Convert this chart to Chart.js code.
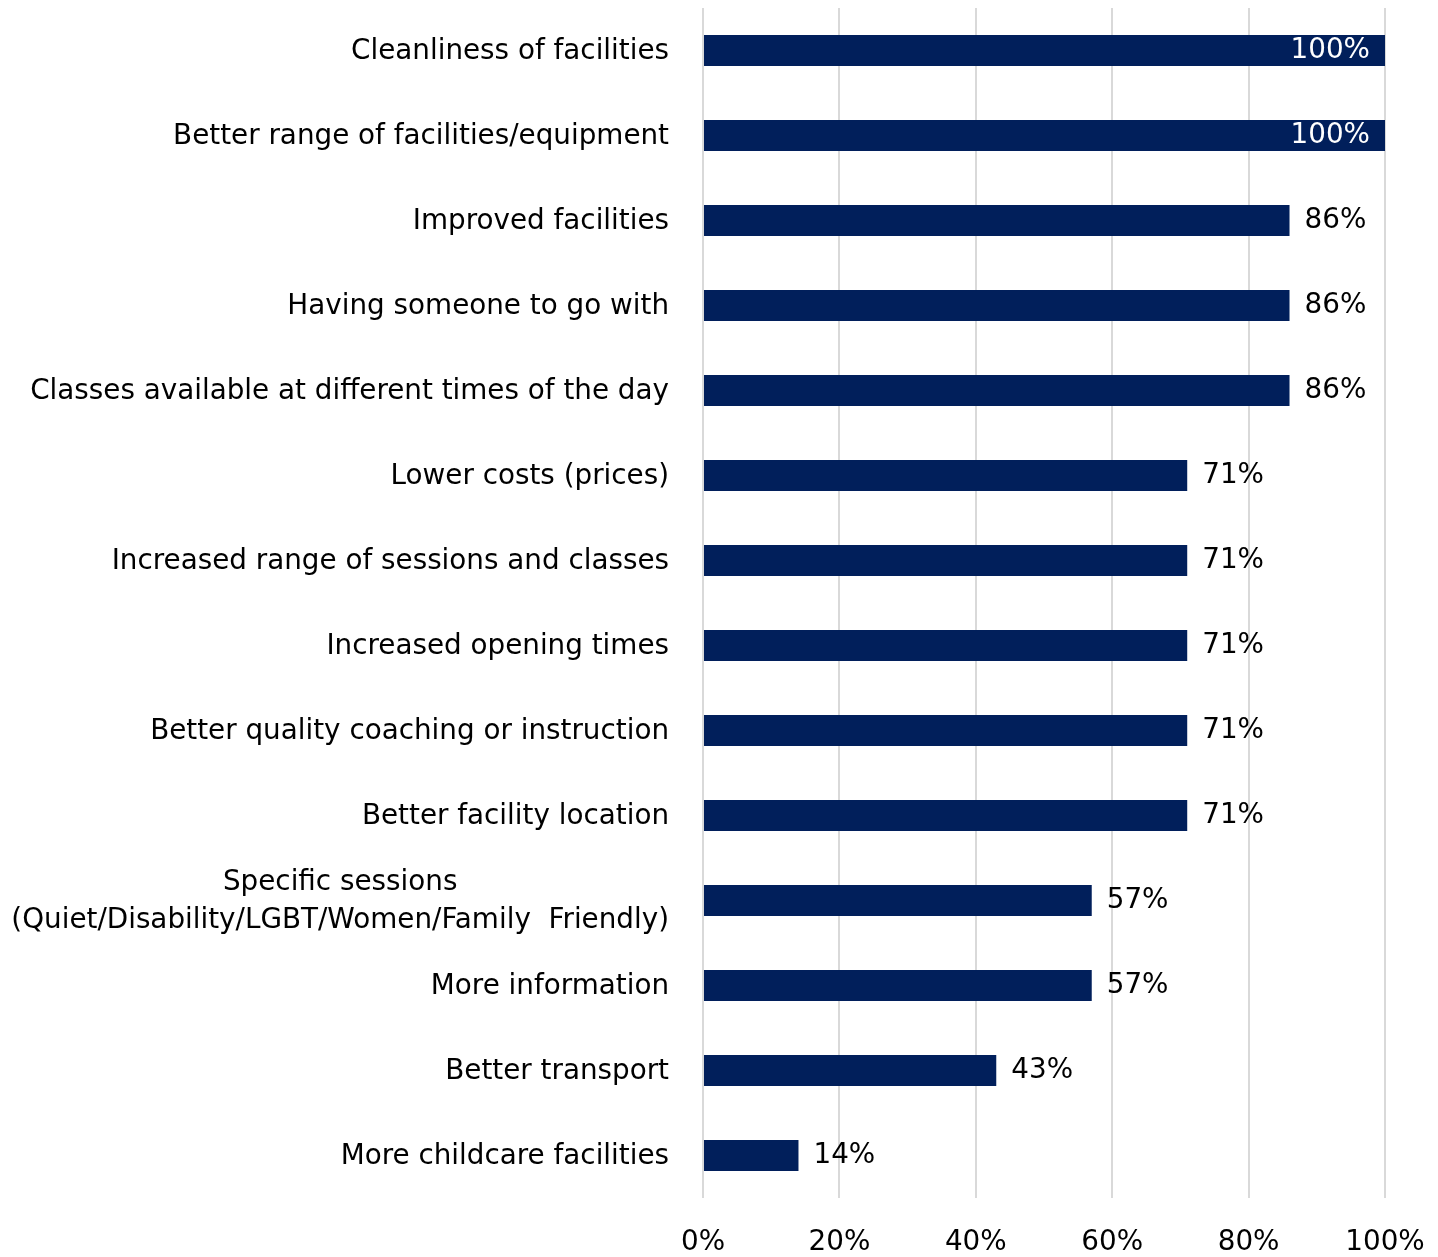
<!DOCTYPE html>
<html>
<head>
<meta charset="utf-8">
<script src="https://cdn.jsdelivr.net/npm/chart.js@4/dist/chart.umd.min.js"></script>
<style>
  html, body { margin: 0; padding: 0; background: #fff; }
  #wrap { width: 1438px; height: 1257px; }
</style>
</head>
<body>
<div id="wrap"><canvas id="myChart" width="1438" height="1257"></canvas></div>
<script>
var categories = [
    'Cleanliness of facilities',
    'Better range of facilities/equipment',
    'Improved facilities',
    'Having someone to go with',
    'Classes available at different times of the day',
    'Lower costs (prices)',
    'Increased range of sessions and classes',
    'Increased opening times',
    'Better quality coaching or instruction',
    'Better facility location',
    ['Specific sessions', '(Quiet/Disability/LGBT/Women/Family  Friendly)'],
    'More information',
    'Better transport',
    'More childcare facilities'
];
var percentages = [100, 100, 86, 86, 86, 71, 71, 71, 71, 71, 57, 57, 43, 14];
var xTicks = [0, 20, 40, 60, 80, 100];

var FONT = "'DejaVu Sans', sans-serif";
var FONT_SIZE = 27.8;
var BAR_COLOR = '#011f5b';

// category labels: right aligned, wrapped lines centred on each other
var categoryLabels = {
    id: 'categoryLabels',
    afterDraw: function(chart) {
        var ctx = chart.ctx;
        var yScale = chart.scales.y;
        var right = chart.chartArea.left - 34;
        var lineH = 38;
        ctx.save();
        ctx.font = FONT_SIZE + 'px ' + FONT;
        ctx.fillStyle = '#000';
        ctx.textBaseline = 'middle';
        categories.forEach(function(label, i) {
            var y = yScale.getPixelForValue(i) + 1;
            if (Array.isArray(label)) {
                var maxW = 0;
                label.forEach(function(l) { maxW = Math.max(maxW, ctx.measureText(l).width); });
                ctx.textAlign = 'center';
                var top = y - (label.length - 1) * lineH / 2;
                label.forEach(function(l, j) {
                    ctx.fillText(l, right - maxW / 2, top + j * lineH);
                });
            } else {
                ctx.textAlign = 'right';
                ctx.fillText(label, right, y);
            }
        });
        ctx.restore();
    }
};

// percentage labels at the bar ends
var valueLabels = {
    id: 'valueLabels',
    afterDatasetsDraw: function(chart) {
        var ctx = chart.ctx;
        var meta = chart.getDatasetMeta(0);
        ctx.save();
        ctx.font = FONT_SIZE + 'px ' + FONT;
        ctx.textBaseline = 'middle';
        meta.data.forEach(function(bar, i) {
            var v = percentages[i];
            if (v >= 100) {
                ctx.fillStyle = '#fff';
                ctx.textAlign = 'right';
                ctx.fillText(v + '%', bar.x - 15, bar.y);
            } else {
                ctx.fillStyle = '#000';
                ctx.textAlign = 'left';
                ctx.fillText(v + '%', bar.x + 15, bar.y);
            }
        });
        ctx.restore();
    }
};

var ctx = document.getElementById('myChart');
var myChart = new Chart(ctx, {
    type: 'bar',
    data: {
        labels: categories.map(function(c, i) { return i; }),
        datasets: [{
            data: percentages,
            backgroundColor: BAR_COLOR,
            barPercentage: 0.365,
            categoryPercentage: 1
        }]
    },
    plugins: [categoryLabels, valueLabels],
    options: {
        indexAxis: 'y',
        responsive: false,
        animation: false,
        layout: { padding: { top: 8, right: 53, left: 0, bottom: 0 } },
        plugins: {
            legend: { display: false },
            tooltip: { enabled: false }
        },
        scales: {
            x: {
                min: 0,
                max: 100,
                afterBuildTicks: function(scale) {
                    scale.ticks = xTicks.map(function(v) { return { value: v }; });
                },
                afterFit: function(scale) {
                    scale.height = 59;
                    scale.paddingLeft = 0;
                    scale.paddingRight = 0;
                },
                grid: { color: '#d9d9d9', lineWidth: 2, drawTicks: false },
                border: { display: false },
                ticks: {
                    padding: 28,
                    color: '#000',
                    maxRotation: 0,
                    font: { family: FONT, size: FONT_SIZE },
                    callback: function(v) { return v + '%'; }
                }
            },
            y: {
                type: 'category',
                afterFit: function(scale) { scale.width = 703; },
                grid: { display: false },
                border: { display: false },
                ticks: { display: false }
            }
        }
    }
});
</script>
</body>
</html>
